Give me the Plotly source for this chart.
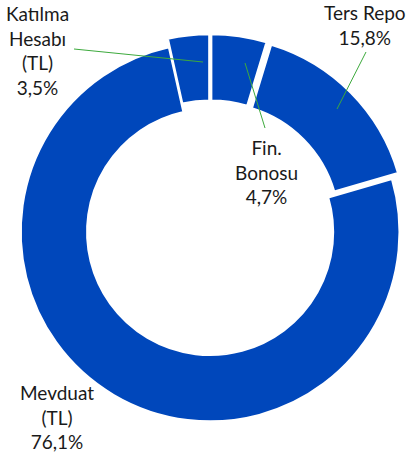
import plotly.graph_objects as go

# data, clockwise from 12 o'clock
labels = ["Fin. Bonosu", "Ters Repo", "Mevduat (TL)", "Katılma Hesabı (TL)"]
shares = [4.7, 15.8, 76.1, 3.5]
pulls = [0.045, 0.045, 0.0, 0.045]
label_text = ["Fin.<br>Bonosu<br>4,7%", "Ters Repo<br>15,8%", "Mevduat<br>(TL)<br>76,1%",
              "Katılma<br>Hesabı<br>(TL)<br>3,5%"]

W, H = 408, 459
BLUE = "#0047BB"
GREEN = "#3DAA3D"
FONT = dict(family="Lato, 'Open Sans', sans-serif", size=19, color="#1a1a1a")


def px(x, y):
    # pixel -> paper coords
    return x / W, 1 - y / H


fig = go.Figure(
    go.Pie(
        labels=labels,
        values=shares,
        hole=0.65,
        sort=False,
        direction="clockwise",
        rotation=0,
        pull=pulls,
        textinfo="none",
        marker=dict(colors=[BLUE] * 4, line=dict(color="white", width=2)),
        domain=dict(x=[0.03, 1.0], y=[0.0596, 0.9296]),
        showlegend=False,
    )
)

# label positions (pixel centres of text blocks)
label_pos = [(266, 172), (365, 25), (57, 417), (37, 50)]
for txt, (x, y) in zip(label_text, label_pos):
    ax, ay = px(x, y)
    fig.add_annotation(x=ax, y=ay, xref="paper", yref="paper", text=txt,
                       xanchor="center", yanchor="middle",
                       showarrow=False, font=FONT, align="center")

# leader lines
leaders = [((265, 128), (245, 63)), ((366, 52), (337, 109)), ((74, 49), (203, 62))]
for (x0, y0), (x1, y1) in leaders:
    a0, b0 = px(x0, y0)
    a1, b1 = px(x1, y1)
    fig.add_shape(type="line", xref="paper", yref="paper", x0=a0, y0=b0, x1=a1, y1=b1,
                  line=dict(color=GREEN, width=1))

fig.update_layout(
    width=W,
    height=H,
    margin=dict(l=0, r=0, t=0, b=0),
    paper_bgcolor="white",
    plot_bgcolor="white",
)

# drop the browser's default body margin so the figure sits at the window corner
fig.write_html("out.html", config={"displayModeBar": False},
               post_script="document.body.style.margin = '0';")
